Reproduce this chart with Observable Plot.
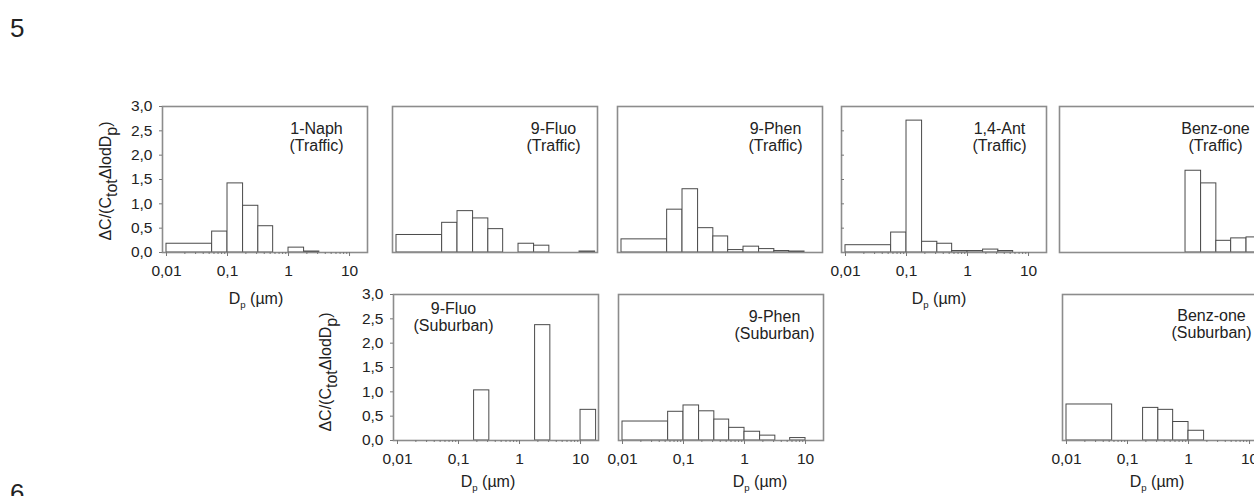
<!DOCTYPE html>
<html><head><meta charset="utf-8">
<script src="https://cdn.jsdelivr.net/npm/d3@7"></script>
<script src="https://cdn.jsdelivr.net/npm/@observablehq/plot@0.6"></script>
<style>
body{margin:0;background:#fff;}
#root{position:relative;width:1254px;height:496px;overflow:hidden;font-family:"Liberation Sans",Arial,sans-serif;color:#222;background:#fff;}
.abs{position:absolute;white-space:nowrap;line-height:1;}
.ylab{font-size:16px;transform:translate(-50%,-50%) rotate(-90deg);}
.xlab{font-size:16px;transform:translate(-50%,-50%);}
.ylab sub{font-size:1em;vertical-align:-0.35em;line-height:0;}
.xlab sub{font-size:0.6em;vertical-align:-0.45em;line-height:0;}
.num{font-size:26px;}
#root svg{position:absolute;overflow:visible;background:transparent;}
</style></head><body><div id="root"></div>
<script>
// MOUDI-type size bin edges (µm)
const binEdges = [0.01, 0.056, 0.1, 0.18, 0.32, 0.56, 1.0, 1.8, 3.2, 5.6, 10, 18];

const compounds = ["1-Naph", "9-Fluo", "9-Phen", "1,4-Ant", "Benz-one", "9-Fluo", "9-Phen", "Benz-one"];
const sites     = ["Traffic", "Traffic", "Traffic", "Traffic", "Traffic", "Suburban", "Suburban", "Suburban"];

// ΔC/(Ctot ΔlogDp) per bin
const naphTraffic    = [0.18, 0.43, 1.42, 0.96, 0.54, 0, 0.10, 0.02, 0, 0, 0];
const fluoTraffic    = [0.36, 0.61, 0.85, 0.70, 0.48, 0, 0.18, 0.14, 0, 0, 0.02];
const phenTraffic    = [0.27, 0.88, 1.30, 0.50, 0.33, 0.05, 0.12, 0.07, 0.03, 0.02, 0];
const antTraffic     = [0.15, 0.41, 2.71, 0.22, 0.18, 0.03, 0.03, 0.06, 0.03, 0, 0];
const benzTraffic    = [0, 0, 0, 0, 0, 0, 1.68, 1.42, 0.24, 0.29, 0.31];
const fluoSuburban   = [0, 0, 0, 1.03, 0, 0, 0, 2.37, 0, 0, 0.63];
const phenSuburban   = [0.39, 0.59, 0.72, 0.60, 0.43, 0.26, 0.18, 0.10, 0, 0.05, 0];
const benzSuburban   = [0.74, 0, 0, 0.67, 0.63, 0.38, 0.20, 0, 0, 0, 0];
const seriesValues = [naphTraffic, fluoTraffic, phenTraffic, antTraffic, benzTraffic, fluoSuburban, phenSuburban, benzSuburban];

const xTicks = [0.01, 0.1, 1, 10];
const xTickLabels = ["0,01", "0,1", "1", "10"];
const xMinorTicks = [0.02,0.03,0.04,0.05,0.06,0.07,0.08,0.09,0.2,0.3,0.4,0.5,0.6,0.7,0.8,0.9,2,3,4,5,6,7,8,9];
const yTicks = [0, 0.5, 1, 1.5, 2, 2.5, 3];
const yTickLabels = ["0,0", "0,5", "1,0", "1,5", "2,0", "2,5", "3,0"];
const yAxisTitle = "ΔC/(C<sub>tot</sub>ΔlodD<sub>p</sub>)";
const xAxisTitle = "D<sub>p</sub> (µm)";

// ---- layout (positions / styles) ----
const W = 205, H = 146, ML = 50, MR = 5, MT = 5, MB = 40;
const TICK_FONT = 15.5;
const layout = [
  {left:162,  top:106, xAxis:true,  yAxis:"labels", anchor:"top-right", dx:-51, dy:16},
  {left:392,  top:106, xAxis:false, yAxis:null,     anchor:"top-right", dx:-44, dy:16},
  {left:617,  top:106, xAxis:false, yAxis:null,     anchor:"top-right", dx:-47, dy:16},
  {left:841,  top:106, xAxis:true,  yAxis:"ticks",  anchor:"top-right", dx:-47, dy:16},
  {left:1059, top:106, xAxis:false, yAxis:null,     anchor:"top-right", dx:-49, dy:16},
  {left:393,  top:294, xAxis:true,  yAxis:"labels", anchor:"top-left",  dx:60,  dy:8},
  {left:618,  top:294, xAxis:true,  yAxis:null,     anchor:"top-right", dx:-49, dy:16},
  {left:1062, top:294, xAxis:true,  yAxis:null,     anchor:"top-right", dx:-56, dy:15}
];
const xLabelPos = [[256,299],[939,299],[488,482],[760,482],[1157,482]];
const yLabelPos = [[106,181],[326,372]];

const root = document.getElementById("root");
const xFmt = new Map(xTicks.map((t,i)=>[t, xTickLabels[i]]));
const yFmt = new Map(yTicks.map((t,i)=>[t, yTickLabels[i]]));

seriesValues.forEach((vals, k) => {
  const L = layout[k];
  const rows = vals.map((v,i)=>({x1: binEdges[i], x2: binEdges[i+1], v})).filter(d => d.v > 0);
  const marks = [
    Plot.rect(rows, {x1:"x1", x2:"x2", y1:0, y2:"v", fill:"white", stroke:"#4a4a4a", strokeWidth:1}),
    Plot.frame({stroke:"#8c8c8c", strokeWidth:1.6}),
    Plot.text([compounds[k] + "\n(" + sites[k] + ")"], {text: d=>d, frameAnchor:L.anchor, dx:L.dx, dy:L.dy,
      textAnchor:"middle", lineAnchor:"top", lineHeight:1.05, fontSize:16, fill:"#222"})
  ];
  if (L.xAxis) {
    marks.push(Plot.axisX(xMinorTicks, {anchor:"bottom", tickSize:2, tickFormat:()=>"", stroke:"#777", label:null}));
    marks.push(Plot.axisX(xTicks, {anchor:"bottom", tickSize:4, tickPadding:8, tickFormat:d=>xFmt.get(d),
      stroke:"#777", fill:"#222", fontSize:TICK_FONT, label:null}));
  }
  if (L.yAxis === "labels") {
    marks.push(Plot.axisY(yTicks, {anchor:"left", tickSize:3, tickPadding:7, tickFormat:d=>yFmt.get(d),
      stroke:"#777", fill:"#222", fontSize:TICK_FONT, label:null}));
  } else if (L.yAxis === "ticks") {
    marks.push(Plot.axisY(yTicks.slice(1, -1), {anchor:"left", tickSize:-3, tickFormat:()=>"", stroke:"#777", label:null}));
  }
  const svg = Plot.plot({
    width: W + ML + MR, height: H + MT + MB,
    marginLeft: ML, marginRight: MR, marginTop: MT, marginBottom: MB,
    x: {type:"log", domain:[0.0086, 19.7], axis:null},
    y: {domain:[0, 3], axis:null},
    style: {fontFamily:'"Liberation Sans", Arial, sans-serif', fontSize:"15px", background:"transparent", overflow:"visible"},
    marks
  });
  // enforce tick-label font size on axis texts (panel labels contain "(")
  svg.querySelectorAll("text").forEach(t => {
    if (t.textContent.indexOf("(") >= 0) { t.setAttribute("font-size", "16"); t.style.fontSize = "16px"; }
    else { t.setAttribute("font-size", String(TICK_FONT)); t.style.fontSize = TICK_FONT + "px"; }
  });
  svg.style.left = (L.left - ML) + "px";
  svg.style.top = (L.top - MT) + "px";
  root.appendChild(svg);
});

function addDiv(cls, html, x, y) {
  const d = document.createElement("div");
  d.className = "abs " + cls;
  d.innerHTML = html;
  d.style.left = x + "px";
  d.style.top = y + "px";
  root.appendChild(d);
  return d;
}
xLabelPos.forEach(([x,y]) => addDiv("xlab", xAxisTitle, x, y));
yLabelPos.forEach(([x,y]) => addDiv("ylab", yAxisTitle, x, y));
addDiv("num", "5", 10, 14.6);
addDiv("num", "6", 10, 479.6);
</script></body></html>
